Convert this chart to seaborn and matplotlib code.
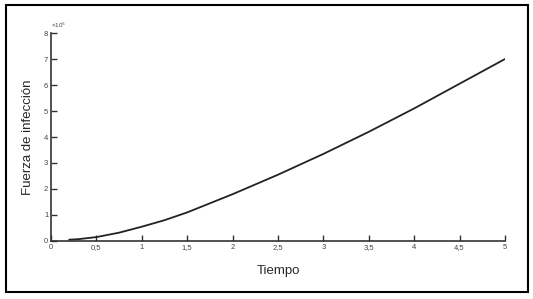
import seaborn as sns
import matplotlib.pyplot as plt
import pandas as pd
from matplotlib.patches import Rectangle

# force of infection over time (units of 1e-5)
tiempo = [0.2, 0.3, 0.5, 0.75, 1.0, 1.25, 1.5, 2.0, 2.5, 3.0, 3.5, 4.0, 4.5, 5.0]
fuerza = [0.05, 0.07, 0.15, 0.32, 0.55, 0.8, 1.1, 1.8, 2.55, 3.35, 4.2, 5.1, 6.05, 7.0]

x_ticks = [0, 0.5, 1, 1.5, 2, 2.5, 3, 3.5, 4, 4.5, 5]
y_ticks = [0, 1, 2, 3, 4, 5, 6, 7, 8]

df = pd.DataFrame({"Tiempo": tiempo, "Fuerza": fuerza})

sns.set_style("ticks")
plt.rcParams['font.family'] = ['Liberation Sans', 'DejaVu Sans']

fig = plt.figure(figsize=(5.33, 2.99), dpi=100)
ax = fig.add_axes([0.0957, 0.194, 0.8518, 0.6956])

sns.lineplot(data=df, x="Tiempo", y="Fuerza", color="#222222", linewidth=1.3, ax=ax)

ax.set_xlim(0, 5)
ax.set_ylim(0, 8)
ax.set_xticks(x_ticks)
ax.set_xticklabels([("%g" % v).replace(".", ",") for v in x_ticks])
ax.set_yticks(y_ticks)
ax.set_yticklabels([str(v) for v in y_ticks])
ax.tick_params(direction="in", length=4, width=1, labelsize=5.5,
               labelcolor="#444444", color="#333333", pad=2)
sns.despine(ax=ax)
for s in ["left", "bottom"]:
    ax.spines[s].set_color("#333333")
    ax.spines[s].set_linewidth(1.2)

ax.set_xlabel("Tiempo", fontsize=9.5, labelpad=10)
ax.set_ylabel("Fuerza de infección", fontsize=9.5, labelpad=7)
ax.text(0.0, 1.015, "×10$^{5}$", transform=ax.transAxes, fontsize=4.5,
        color="#444444", ha="left", va="bottom")

# outer frame
fig.patches.append(Rectangle((0.011, 0.022), 0.98, 0.96, transform=fig.transFigure,
                             fill=False, edgecolor="black", linewidth=1.5))

fig.savefig("out.png", dpi=100)
